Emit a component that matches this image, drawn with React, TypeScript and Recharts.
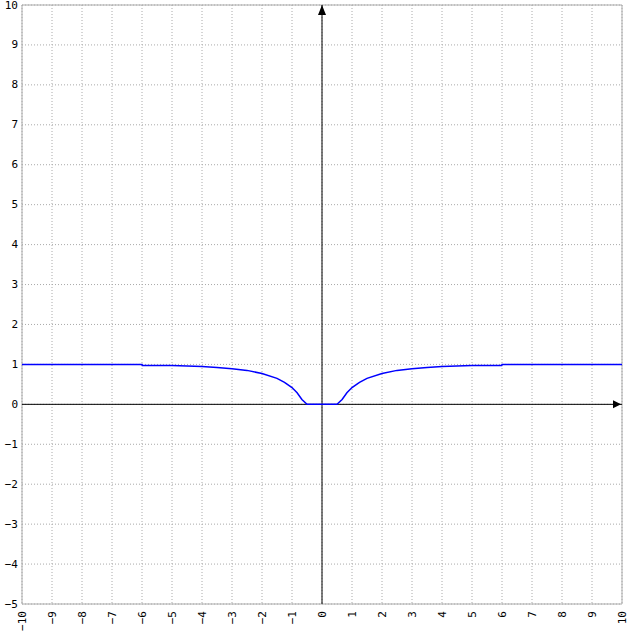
import { LineChart, Line, XAxis, YAxis, CartesianGrid, ReferenceLine, ReferenceDot } from 'recharts'

const xValues = [-10, -6, -5.99, -5, -4, -3.5, -3, -2.5, -2, -1.5, -1.25, -1, -0.83, -0.67, -0.5, 0, 0.5, 0.67, 0.83, 1, 1.25, 1.5, 2, 2.5, 3, 3.5, 4, 5, 5.99, 6, 10]
const yValues = [1, 1, 0.975, 0.97, 0.95, 0.925, 0.89, 0.85, 0.77, 0.65, 0.55, 0.42, 0.29, 0.12, 0, 0, 0, 0.12, 0.29, 0.42, 0.55, 0.65, 0.77, 0.85, 0.89, 0.925, 0.95, 0.97, 0.975, 1, 1]

const xTicks = [-10, -9, -8, -7, -6, -5, -4, -3, -2, -1, 0, 1, 2, 3, 4, 5, 6, 7, 8, 9, 10]
const yTicks = [-5, -4, -3, -2, -1, 0, 1, 2, 3, 4, 5, 6, 7, 8, 9, 10]

const data = xValues.map((x, i) => ({ x, y: yValues[i] }))

const FONT = '"DejaVu Sans Mono", monospace'
const GRAY = '#aaaaaa'

// real minus sign, like the reference
const fmt = (v: number) => (v < 0 ? `\u2212${-v}` : `${v}`)

function XTick({ x, payload }: any) {
  return (
    <g transform={`translate(${x},611) rotate(-90)`}>
      <text textAnchor="end" dominantBaseline="central" fontFamily={FONT} fontSize={11} fill="#000">
        {fmt(payload.value)}
      </text>
    </g>
  )
}

function YTick({ y, payload }: any) {
  return (
    <text x={18} y={y} textAnchor="end" dominantBaseline="central" fontFamily={FONT} fontSize={11} fill="#000">
      {fmt(payload.value)}
    </text>
  )
}

const upArrow = ({ cx, cy }: any) => (
  <polygon points={`${cx},${cy} ${cx - 4},${cy + 10} ${cx + 4},${cy + 10}`} fill="#000" />
)

const rightArrow = ({ cx, cy }: any) => (
  <polygon points={`${cx - 1},${cy} ${cx - 9},${cy - 4} ${cx - 9},${cy + 4}`} fill="#000" />
)

export default function App() {
  return (
    <div style={{ position: 'absolute', left: 0, top: 0, background: '#fff' }}>
      <LineChart width={627} height={633} data={data} margin={{ top: 5, right: 5, left: 0, bottom: 0 }}>
        <CartesianGrid stroke={GRAY} strokeDasharray="1 2" />
        <XAxis
          dataKey="x"
          type="number"
          domain={[-10, 10]}
          ticks={xTicks}
          interval={0}
          height={29}
          axisLine={false}
          tickLine={false}
          tick={<XTick />}
        />
        <YAxis
          type="number"
          domain={[-5, 10]}
          ticks={yTicks}
          interval={0}
          width={22}
          axisLine={false}
          tickLine={false}
          tick={<YTick />}
        />
        <ReferenceLine x={-10} stroke={GRAY} />
        <ReferenceLine x={10} stroke={GRAY} />
        <ReferenceLine y={-5} stroke={GRAY} />
        <ReferenceLine y={10} stroke={GRAY} />
        <ReferenceLine x={0} stroke="#000" />
        <ReferenceLine y={0} stroke="#000" />
        <ReferenceDot x={0} y={10} shape={upArrow} />
        <ReferenceDot x={10} y={0} shape={rightArrow} />
        <Line type="linear" dataKey="y" stroke="#0000ff" strokeWidth={1.5} dot={false} isAnimationActive={false} />
      </LineChart>
    </div>
  )
}
